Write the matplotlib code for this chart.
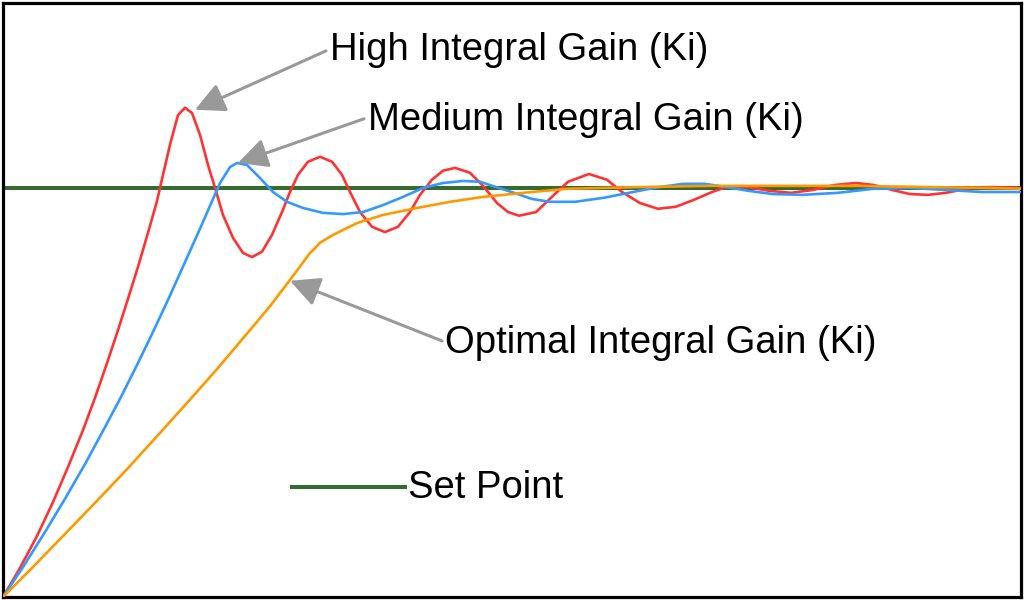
import matplotlib.pyplot as plt

plt.rcParams['font.family'] = ['Liberation Sans', 'DejaVu Sans']

# time (s) and response (set point = 1.0)
t_high = [0.0, 0.167, 0.334, 0.491, 0.639, 0.786, 0.904, 1.022, 1.120, 1.228, 1.326,
          1.424, 1.513, 1.542, 1.640, 1.719, 1.788, 1.857, 1.935, 2.014, 2.083,
          2.161, 2.259, 2.358, 2.446, 2.544, 2.642, 2.741, 2.819, 2.898, 2.996,
          3.114, 3.232, 3.330, 3.409, 3.507, 3.625, 3.752, 3.880, 3.998, 4.096,
          4.214, 4.322, 4.440, 4.587, 4.715, 4.853, 4.961, 5.069, 5.236, 5.413,
          5.550, 5.756, 5.933, 6.081, 6.257, 6.434, 6.611, 6.788, 6.965, 7.102,
          7.318, 7.525, 7.741, 7.957, 8.163, 8.379, 8.556, 8.733, 8.910, 9.086,
          9.263, 9.509, 9.715, 10.0]
y_high = [0.0, 0.071, 0.149, 0.232, 0.318, 0.408, 0.487, 0.572, 0.645, 0.729, 0.807,
          0.890, 0.968, 1.000, 1.105, 1.178, 1.196, 1.183, 1.130, 1.056, 1.000,
          0.934, 0.878, 0.841, 0.831, 0.844, 0.885, 0.941, 0.990, 1.032, 1.064,
          1.076, 1.064, 1.032, 0.990, 0.941, 0.905, 0.892, 0.905, 0.941, 0.983,
          1.020, 1.042, 1.049, 1.037, 1.005, 0.963, 0.941, 0.932, 0.941, 0.983,
          1.015, 1.034, 1.020, 0.990, 0.963, 0.949, 0.954, 0.971, 0.990, 1.002,
          1.002, 0.993, 0.988, 0.995, 1.007, 1.012, 1.007, 0.995, 0.985, 0.983,
          0.988, 1.000, 1.002, 1.000]

t_med = [0.0, 0.196, 0.413, 0.609, 0.806, 0.982, 1.149, 1.316, 1.464, 1.611, 1.758,
         1.935, 2.033, 2.132, 2.230, 2.299, 2.397, 2.525, 2.652, 2.790, 2.947,
         3.143, 3.340, 3.536, 3.733, 3.929, 4.126, 4.322, 4.519, 4.686, 4.843,
         5.020, 5.196, 5.373, 5.619, 5.904, 6.149, 6.395, 6.680, 6.896, 7.102,
         7.318, 7.564, 7.849, 8.202, 8.556, 8.910, 9.263, 9.617, 10.0]
y_med = [0.0, 0.073, 0.159, 0.240, 0.325, 0.406, 0.484, 0.567, 0.643, 0.721, 0.802,
         0.900, 0.956, 1.012, 1.051, 1.061, 1.056, 1.024, 0.990, 0.966, 0.951,
         0.939, 0.936, 0.941, 0.958, 0.978, 1.000, 1.012, 1.017, 1.015, 1.002,
         0.988, 0.973, 0.966, 0.966, 0.976, 0.988, 1.000, 1.010, 1.010, 1.002,
         0.993, 0.985, 0.983, 0.988, 0.998, 1.000, 0.995, 0.990, 0.990]

t_opt = [0.0, 0.285, 0.589, 0.923, 1.228, 1.542, 1.817, 2.102, 2.377, 2.623, 2.849,
         3.016, 3.065, 3.114, 3.242, 3.477, 3.733, 4.067, 4.391, 4.715, 5.196,
         5.550, 5.904, 6.257, 6.965, 7.672, 8.379, 9.086, 9.617, 10.0]
y_opt = [0.0, 0.071, 0.149, 0.235, 0.315, 0.401, 0.477, 0.557, 0.638, 0.711, 0.785,
         0.841, 0.853, 0.866, 0.885, 0.914, 0.934, 0.951, 0.966, 0.978, 0.990,
         0.998, 1.000, 1.002, 1.005, 1.005, 1.005, 1.002, 1.000, 0.998]

set_point = 1.0

fig = plt.figure(figsize=(10.24, 6.0), dpi=100)
ax = fig.add_axes([3 / 1024, 3 / 600, 1018 / 1024, 594 / 600])
ax.set_xlim(0, 10)
ax.set_ylim(0, 1.452)

ax.axhline(set_point, color='#356b2e', lw=2.9, zorder=2)
ax.plot(t_high, y_high, color='#ff3333', lw=1.9, zorder=3, solid_joinstyle='round')
ax.plot(t_med, y_med, color='#3399ff', lw=1.9, zorder=4, solid_joinstyle='round')
ax.plot(t_opt, y_opt, color='#ff9900', lw=1.9, zorder=5, solid_joinstyle='round')

for s in ax.spines.values():
    s.set_linewidth(2.3)
    s.set_color('black')
ax.set_xticks([])
ax.set_yticks([])

arrow = dict(arrowstyle='-|>,head_length=0.9,head_width=0.45', color='#999999',
             lw=2.2, shrinkA=0, shrinkB=0, mutation_scale=20)

labels = [('High Integral Gain (Ki)', (1.886, 1.191), (3.173, 1.335), (3.212, 1.337)),
          ('Medium Integral Gain (Ki)', (2.308, 1.061), (3.546, 1.169), (3.585, 1.166)),
          ('Optimal Integral Gain (Ki)', (2.819, 0.773), (4.312, 0.626), (4.342, 0.621))]
for txt, tip, tail, pos in labels:
    ax.annotate('', xy=tip, xytext=tail, arrowprops=arrow, zorder=6)
    ax.text(pos[0], pos[1], txt, fontsize=27.5, ha='left', va='center', zorder=7)

# set point key
ax.plot([2.839, 3.949], [0.269, 0.269], color='#356b2e', lw=2.9)
ax.text(3.978, 0.266, 'Set Point', fontsize=27.5, ha='left', va='center')

fig.savefig('out.png', dpi=100)
